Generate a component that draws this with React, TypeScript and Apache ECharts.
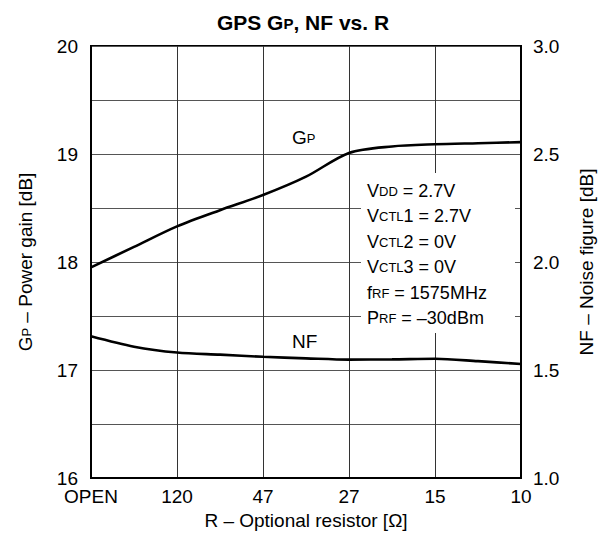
import React, { useEffect, useRef } from "react";
import * as echarts from "echarts";

const categories = ["OPEN", "120", "47", "27", "15", "10"];
const xPositions = [0, 0.5, 1, 1.5, 2, 2.5, 3, 3.5, 4, 4.5, 5];
const gpValues = [17.95, 18.14, 18.33, 18.48, 18.62, 18.79, 19.01, 19.07, 19.09, 19.1, 19.11];
const nfValues = [1.656, 1.608, 1.581, 1.571, 1.561, 1.554, 1.548, 1.549, 1.552, 1.541, 1.528];
const conditionLines = [
  "{n|V}{s|DD}{n| = 2.7V}",
  "{n|V}{s|CTL}{n|1 = 2.7V}",
  "{n|V}{s|CTL}{n|2 = 0V}",
  "{n|V}{s|CTL}{n|3 = 0V}",
  "{n|f}{s|RF}{n| = 1575MHz}",
  "{n|P}{s|RF}{n| = \u201330dBm}",
];

const FONT = "'Liberation Sans', Arial, Helvetica, sans-serif";

export default function App() {
  const ref = useRef<HTMLDivElement>(null);
  useEffect(() => {
    if (!ref.current) return;
    const chart = echarts.init(ref.current, undefined, { renderer: "svg" });
    const richText = (big: number, small: number, bold = false, lift = 2) => ({
      n: {
        fontSize: big,
        fontFamily: FONT,
        color: "#000",
        verticalAlign: "bottom",
        fontWeight: bold ? "bold" : "normal",
      },
      s: {
        fontSize: small,
        fontFamily: FONT,
        color: "#000",
        verticalAlign: "bottom",
        padding: [0, 0, lift, 0],
        fontWeight: bold ? "bold" : "normal",
      },
    });
    const pairs = (vals: number[]) => xPositions.map((x, i) => [x, vals[i]]);
    const graphics: any[] = [
      {
        type: "rect",
        z: 10,
        shape: { x: 361, y: 173, width: 154, height: 160 },
        style: { fill: "#fff" },
      },
      ...conditionLines.map((t, i) => ({
        type: "text",
        z: 11,
        x: 367,
        y: 191 + i * 25.4,
        style: { text: t, rich: richText(18, 13), verticalAlign: "middle", align: "left" },
      })),
      {
        type: "text",
        z: 11,
        x: 292,
        y: 137,
        style: { text: "{n|G}{s|P}", rich: richText(19, 13), verticalAlign: "middle", align: "left" },
      },
      {
        type: "text",
        z: 11,
        x: 292,
        y: 341.5,
        style: { text: "{n|NF}", rich: richText(19, 13), verticalAlign: "middle", align: "left" },
      },
    ];
    chart.setOption({
      animation: false,
      backgroundColor: "#fff",
      title: {
        text: "{n|GPS G}{s|P}{n|, NF vs. R}",
        left: "center",
        top: 7,
        textStyle: { rich: richText(21, 15, true) },
      },
      grid: {
        left: 91,
        right: 85,
        top: 46,
        bottom: 61,
        show: true,
        borderColor: "#000",
        borderWidth: 2,
        containLabel: false,
      },
      xAxis: {
        type: "value",
        min: 0,
        max: 5,
        interval: 1,
        name: "R \u2013 Optional resistor [\u03a9]",
        nameLocation: "middle",
        nameGap: 32,
        nameTextStyle: { fontSize: 19, fontFamily: FONT, color: "#000" },
        axisLine: { show: true, lineStyle: { color: "#000", width: 2 } },
        axisTick: { show: false },
        axisLabel: {
          margin: 9,
          fontSize: 19,
          fontFamily: FONT,
          color: "#000",
          showMinLabel: true,
          showMaxLabel: true,
          formatter: (v: number) => categories[Math.round(v)] ?? "",
        },
        splitLine: { show: true, lineStyle: { color: "#333", width: 1 } },
      },
      yAxis: [
        {
          type: "value",
          position: "left",
          min: 16,
          max: 20,
          interval: 0.5,
          name: "{n|G}{s|P}{n| \u2013 Power gain [dB]}",
          nameLocation: "middle",
          nameRotate: 90,
          nameGap: 56,
          nameTextStyle: { rich: richText(19, 13) },
          axisLine: { show: true, lineStyle: { color: "#000", width: 2 } },
          axisTick: { show: false },
          axisLabel: {
            margin: 13,
            fontSize: 19,
            fontFamily: FONT,
            color: "#000",
            formatter: (v: number) => (Math.abs(v - Math.round(v)) < 1e-6 ? String(Math.round(v)) : ""),
          },
          splitLine: { show: true, lineStyle: { color: "#555", width: 1 } },
        },
        {
          type: "value",
          position: "right",
          min: 1,
          max: 3,
          interval: 0.25,
          name: "NF \u2013 Noise figure [dB]",
          nameLocation: "middle",
          nameRotate: 90,
          nameGap: 56,
          nameTextStyle: { fontSize: 19, fontFamily: FONT, color: "#000" },
          axisLine: { show: true, lineStyle: { color: "#000", width: 2 } },
          axisTick: { show: false },
          axisLabel: {
            margin: 12,
            fontSize: 19,
            fontFamily: FONT,
            color: "#000",
            formatter: (v: number) => (Math.abs(v * 2 - Math.round(v * 2)) < 1e-6 ? v.toFixed(1) : ""),
          },
          splitLine: { show: false },
        },
      ],
      series: [
        {
          name: "GP",
          type: "line",
          yAxisIndex: 0,
          data: pairs(gpValues),
          smooth: 0.3,
          showSymbol: false,
          symbol: "none",
          lineStyle: { color: "#000", width: 2.6 },
        },
        {
          name: "NF",
          type: "line",
          yAxisIndex: 1,
          data: pairs(nfValues),
          smooth: 0.3,
          showSymbol: false,
          symbol: "none",
          lineStyle: { color: "#000", width: 2.6 },
        },
      ],
      graphic: graphics,
    });
    return () => chart.dispose();
  }, []);
  return <div ref={ref} style={{ width: 606, height: 539, position: "absolute", left: 0, top: 0 }} />;
}
